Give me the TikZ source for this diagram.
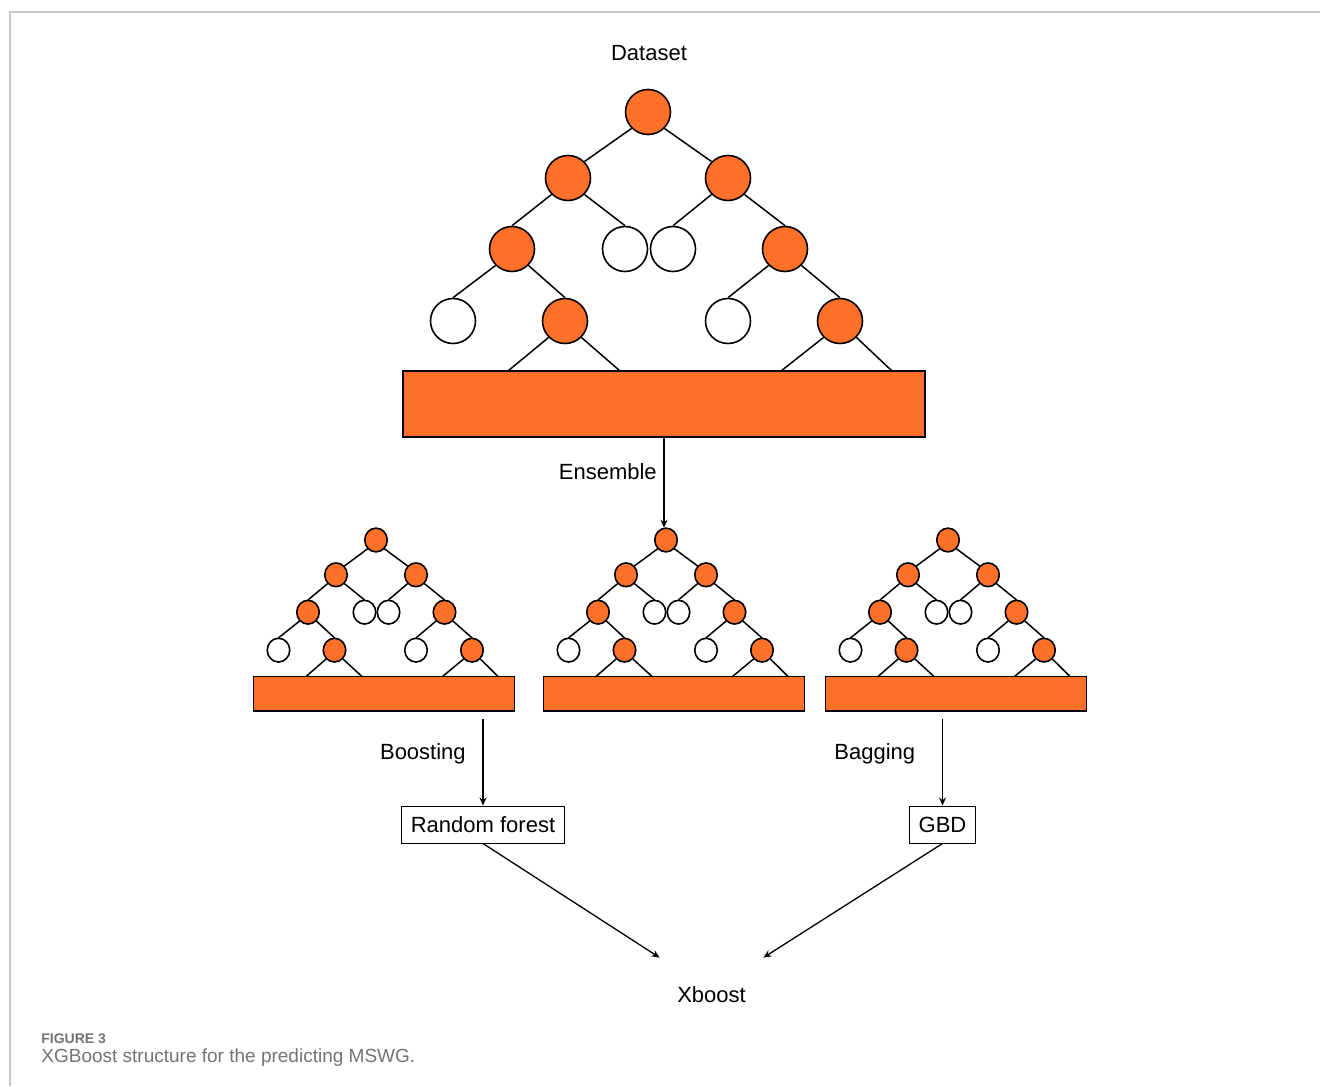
\documentclass[tikz,border=0pt]{standalone}
\usepackage{fontspec}
\setmainfont{Liberation Sans}
\usepackage{tikz}
\usetikzlibrary{arrows.meta, positioning}
\usepackage{xcolor}

\definecolor{treeorange}{RGB}{255,112,40}
\definecolor{capgray}{RGB}{115,115,115}
\definecolor{framegray}{RGB}{200,200,200}

\tikzset{
  leafon/.style={circle, draw, fill=treeorange, line width=0.8pt, minimum size=22.5pt, inner sep=0pt},
  leafoff/.style={leafon, fill=white},
  basebar/.style={draw, fill=treeorange, line width=0.8pt, minimum width=261pt, minimum height=33pt, inner sep=0pt},
  edge/.style={line width=0.75pt},
  arrow/.style={line width=0.65pt, -{Stealth[length=4pt, width=3.5pt]}},
  fbox/.style={draw, line width=0.5pt, inner xsep=4.5pt, minimum height=18.5pt},
  pics/xtree/.style={code={
    \node[leafon] (-r) at (0,0) {};
    \node[leafon] (-a) at (-80,66) {};
    \node[leafon] (-b) at (80,66) {};
    \node[leafon] (-c) at (-136,137) {};
    \node[leafoff] (-d) at (-23,137) {};
    \node[leafoff] (-e) at (25,137) {};
    \node[leafon] (-f) at (137,137) {};
    \node[leafoff] (-g) at (-195,209) {};
    \node[leafon] (-h) at (-83,209) {};
    \node[leafoff] (-i) at (80,209) {};
    \node[leafon] (-j) at (192,209) {};
    \node[basebar] (-base) at (16,292) {};
    \draw[edge] (-r.south west) -- (-a.north east) (-r.south east) -- (-b.north west);
    \draw[edge] (-a.south west) -- (-c.north) (-a.south east) -- (-d.north);
    \draw[edge] (-b.south west) -- (-e.north) (-b.south east) -- (-f.north);
    \draw[edge] (-c.south west) -- (-g.north) (-c.south east) -- (-h.north);
    \draw[edge] (-f.south west) -- (-i.north) (-f.south east) -- (-j.north);
    \draw[edge] (-h.south west) -- (-140,259) (-h.south east) -- (-28,259);
    \draw[edge] (-j.south west) -- (133,259) (-j.south east) -- (244,259);
  }}
}

\begin{document}
\begin{tikzpicture}[x=0.5pt, y=-0.5pt, font=\fontsize{11}{13}\selectfont]
  \useasboundingbox (0,0) rectangle (1320,1086);
  \draw[framegray, line width=0.75pt] (1320,12) -- (10,12) -- (10,1086);

  % trees
  \node (data) at (649,53) {Dataset};
  \pic (big) at (648,112) {xtree};
  \pic[xscale=0.5, yscale=0.527, transform shape] (lt) at (376,540) {xtree};
  \pic[xscale=0.5, yscale=0.527, transform shape] (mid) at (666,540) {xtree};
  \pic[xscale=0.5, yscale=0.527, transform shape] (rt) at (948,540) {xtree};

  \draw[arrow] (big-base.south) -- node[pos=0.38, left] {Ensemble} (big-base.south |- mid-r.north);

  % methods
  \node[fbox] (rf) at (483,824.5) {Random forest};
  \node[fbox] (gbd) at (942.5,824.5) {GBD};
  \node[minimum width=51.5pt, minimum height=37pt] (xb) at (711.5,995) {Xboost};

  \draw[arrow] ([yshift=-3.5pt]lt-base.south -| rf.north) -- node[pos=0.4, left=5pt] {Boosting} (rf.north);
  \draw[arrow] ([yshift=-3.5pt]rt-base.south -| gbd.north) -- node[pos=0.4, left=10pt] {Bagging} (gbd.north);
  \draw[arrow] (rf.south) -- (xb.north west);
  \draw[arrow] (gbd.south) -- (xb.north east);

  % caption
  \node[anchor=base west, inner sep=0pt, text=capgray, font=\fontsize{7}{9}\selectfont\bfseries] (fig) at (41,1043) {FIGURE 3};
  \node[anchor=base west, inner sep=0pt, text=capgray, font=\fontsize{9.5}{11}\selectfont] (cap) at (41,1062) {XGBoost structure for the predicting MSWG.};
\end{tikzpicture}
\end{document}
